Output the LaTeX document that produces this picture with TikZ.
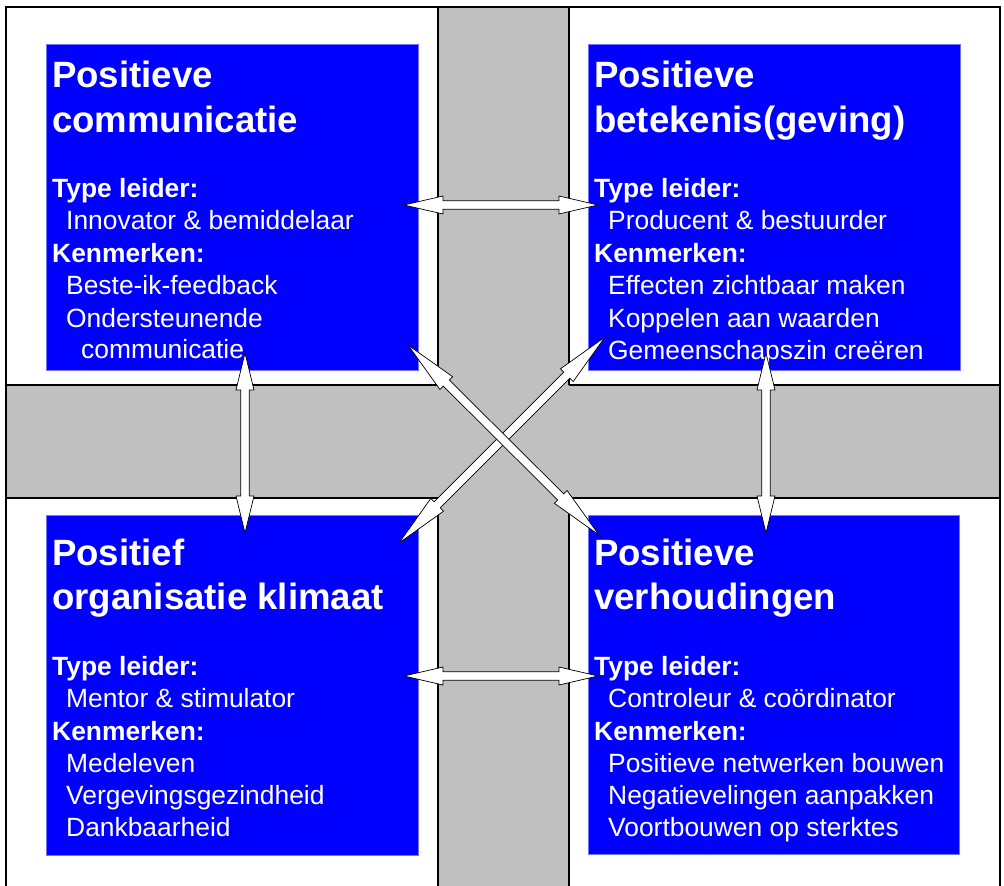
\documentclass[tikz,border=0pt]{standalone}
\usepackage{fontspec}
\setmainfont{Liberation Sans}
\usetikzlibrary{calc}
\definecolor{boxblue}{RGB}{0,0,255}
\definecolor{bandgray}{RGB}{192,192,192}
\tikzset{
  box/.style={rectangle, fill=boxblue, draw=boxblue!55!white, line width=0.6pt, inner sep=0pt, anchor=north west},
  ttl/.style={anchor=base west, inner sep=0pt, text=white, font=\fontsize{36.6}{45}\selectfont\bfseries},
  lbl/.style={anchor=base west, inner sep=0pt, text=white, font=\fontsize{26.4}{32}\selectfont\bfseries},
  itm/.style={anchor=base west, inner sep=0pt, text=white, font=\fontsize{26.4}{32}\selectfont},
  blockarrow/.style={draw=black, fill=white, line width=0.7pt, line join=miter},
  bandline/.style={line width=1.6pt},
  framelne/.style={line width=2pt},
}
\newcommand\dblarrow[3]{%
  \coordinate (ah) at ($(#1)!#3pt!(#2)$);
  \coordinate (bh) at ($(#2)!#3pt!(#1)$);
  \draw[blockarrow] (#1) -- ($(ah)!9pt!90:(#2)$) -- ($(ah)!4.3pt!90:(#2)$)
    -- ($(bh)!4.3pt!-90:(#1)$) -- ($(bh)!9pt!-90:(#1)$) -- (#2)
    -- ($(bh)!9pt!90:(#1)$) -- ($(bh)!4.3pt!90:(#1)$)
    -- ($(ah)!4.3pt!-90:(#2)$) -- ($(ah)!9pt!-90:(#2)$) -- cycle;
}
\begin{document}
\begin{tikzpicture}[x=1pt,y=-1pt]
\path[use as bounding box] (0,0) rectangle (1004,886);
\clip (0,0) rectangle (1004,886);
% grey cross
\fill[bandgray] (438,7) rectangle (569,890);
\fill[bandgray] (6,385) rectangle (1000,498);
\draw[bandline] (438,7) -- (438,385) (569,7) -- (569,385)
  (438,498) -- (438,890) (569,498) -- (569,890)
  (6,385) -- (438,385) (569,385) -- (1000,385)
  (6,498) -- (438,498) (569,498) -- (1000,498);
% outer frame
\draw[framelne] (6,900) -- (6,7) -- (1000,7) -- (1000,900);
% boxes
\node[box, minimum width=372pt, minimum height=326pt] (tl) at (46,44) {};
\node[box, minimum width=372pt, minimum height=326pt] (tr) at (588,44) {};
\node[box, minimum width=372pt, minimum height=340pt] (bl) at (46,515) {};
\node[box, minimum width=371pt, minimum height=339pt] (br) at (588,515) {};
% top left text
\node[ttl] (tl1) at (52,87) {Positieve};
\node[ttl] (tl2) at (52,132) {communicatie};
\node[lbl] (tl3) at (52,197) {Type leider:};
\node[itm] (tl4) at (66,229.5) {Innovator \& bemiddelaar};
\node[lbl] (tl5) at (52,262) {Kenmerken:};
\node[itm] (tl6) at (66,294.5) {Beste-ik-feedback};
\node[itm] (tl7) at (66,327) {Ondersteunende};
\node[itm] (tl8) at (81,358) {communicatie};
% top right text
\node[ttl] (tr1) at (594,87) {Positieve};
\node[ttl] (tr2) at (594,132) {betekenis(geving)};
\node[lbl] (tr3) at (594,197) {Type leider:};
\node[itm] (tr4) at (608,229.5) {Producent \& bestuurder};
\node[lbl] (tr5) at (594,262) {Kenmerken:};
\node[itm] (tr6) at (608,294.5) {Effecten zichtbaar maken};
\node[itm] (tr7) at (608,327) {Koppelen aan waarden};
\node[itm] (tr8) at (608,359) {Gemeenschapszin creëren};
% bottom left text
\node[ttl] (bl1) at (52,565) {Positief};
\node[ttl] (bl2) at (52,609) {organisatie klimaat};
\node[lbl] (bl3) at (52,675) {Type leider:};
\node[itm] (bl4) at (66,707.5) {Mentor \& stimulator};
\node[lbl] (bl5) at (52,740) {Kenmerken:};
\node[itm] (bl6) at (66,772) {Medeleven};
\node[itm] (bl7) at (66,804.5) {Vergevingsgezindheid};
\node[itm] (bl8) at (66,836) {Dankbaarheid};
% bottom right text
\node[ttl] (br1) at (594,565) {Positieve};
\node[ttl] (br2) at (594,609) {verhoudingen};
\node[lbl] (br3) at (594,675) {Type leider:};
\node[itm] (br4) at (608,707.5) {Controleur \& coördinator};
\node[lbl] (br5) at (594,740) {Kenmerken:};
\node[itm] (br6) at (608,772) {Positieve netwerken bouwen};
\node[itm] (br7) at (608,804.5) {Negatievelingen aanpakken};
\node[itm] (br8) at (608,836) {Voortbouwen op sterktes};
% arrow end points
\coordinate (h1a) at (404,205); \coordinate (h1b) at (598,205);
\coordinate (h2a) at (404,676); \coordinate (h2b) at (598,676);
\coordinate (v1a) at (245,353); \coordinate (v1b) at (245,533);
\coordinate (v2a) at (766,353); \coordinate (v2b) at (766,533);
\coordinate (d1a) at (408,345); \coordinate (d1b) at (599,535);
\coordinate (d2a) at (605,337); \coordinate (d2b) at (399,543);
% arrows
\dblarrow{h1a}{h1b}{39}
\dblarrow{h2a}{h2b}{39}
\dblarrow{v1a}{v1b}{37}
\dblarrow{v2a}{v2b}{37}
\dblarrow{d2a}{d2b}{54}
\dblarrow{d1a}{d1b}{54}
\end{tikzpicture}
\end{document}
